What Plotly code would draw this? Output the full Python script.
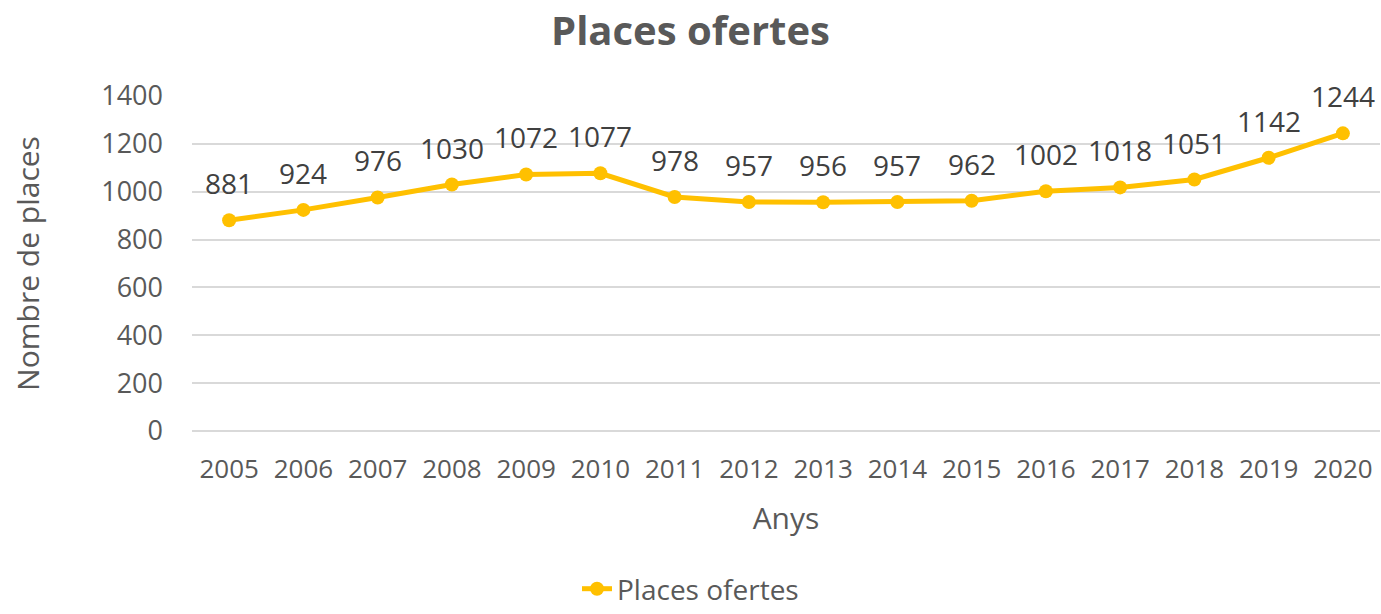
import plotly.graph_objects as go

years = ["2005", "2006", "2007", "2008", "2009", "2010", "2011", "2012",
         "2013", "2014", "2015", "2016", "2017", "2018", "2019", "2020"]
places = [881, 924, 976, 1030, 1072, 1077, 978, 957, 956, 957, 962, 1002, 1018, 1051, 1142, 1244]
y_ticks = [0, 200, 400, 600, 800, 1000, 1200, 1400]

GOLD = "#FFC000"
GREY = "#595959"
FONT = "Open Sans, sans-serif"

fig = go.Figure()
fig.add_trace(go.Scatter(
    x=years, y=places, mode="lines+markers", name="Places ofertes",
    line=dict(color=GOLD, width=5), marker=dict(color=GOLD, size=14),
))

for i, v in enumerate(places):
    fig.add_annotation(x=i, y=v, xref="x", yref="y", text=str(v), showarrow=False, yshift=37,
                       font=dict(size=28, color="#404040", family=FONT))

fig.update_layout(
    width=1381, height=614,
    margin=dict(l=192, r=1, t=96, b=183, autoexpand=False),
    plot_bgcolor="white", paper_bgcolor="white",
    font=dict(family=FONT, color=GREY, size=26),
    title=dict(text="<b>Places ofertes</b>", x=0.5, xanchor="center", y=0.95, yanchor="middle",
               font=dict(size=40, color=GREY, family=FONT)),
    showlegend=True,
    legend=dict(orientation="h", xref="container", yref="container", x=0.5, xanchor="center",
                y=0.0, yanchor="bottom", font=dict(size=28, color=GREY)),
    xaxis=dict(type="category", title=dict(text="Anys", font=dict(size=30, color=GREY), standoff=22),
               showgrid=False, showline=False, ticks="", tickfont=dict(size=26, color=GREY),
               ticklabelstandoff=20, range=[-0.5, 15.5], automargin=False),
    yaxis=dict(title=dict(text="Nombre de places", font=dict(size=30, color=GREY), standoff=52),
               range=[0, 1400], tickvals=y_ticks, showgrid=True, gridcolor="#D9D9D9", gridwidth=1.5,
               zeroline=True, zerolinecolor="#D9D9D9", zerolinewidth=1.5,
               showline=False, ticks="", tickfont=dict(size=27, color=GREY),
               ticklabelstandoff=28, automargin=False),
)

fig.write_html("out.html")
